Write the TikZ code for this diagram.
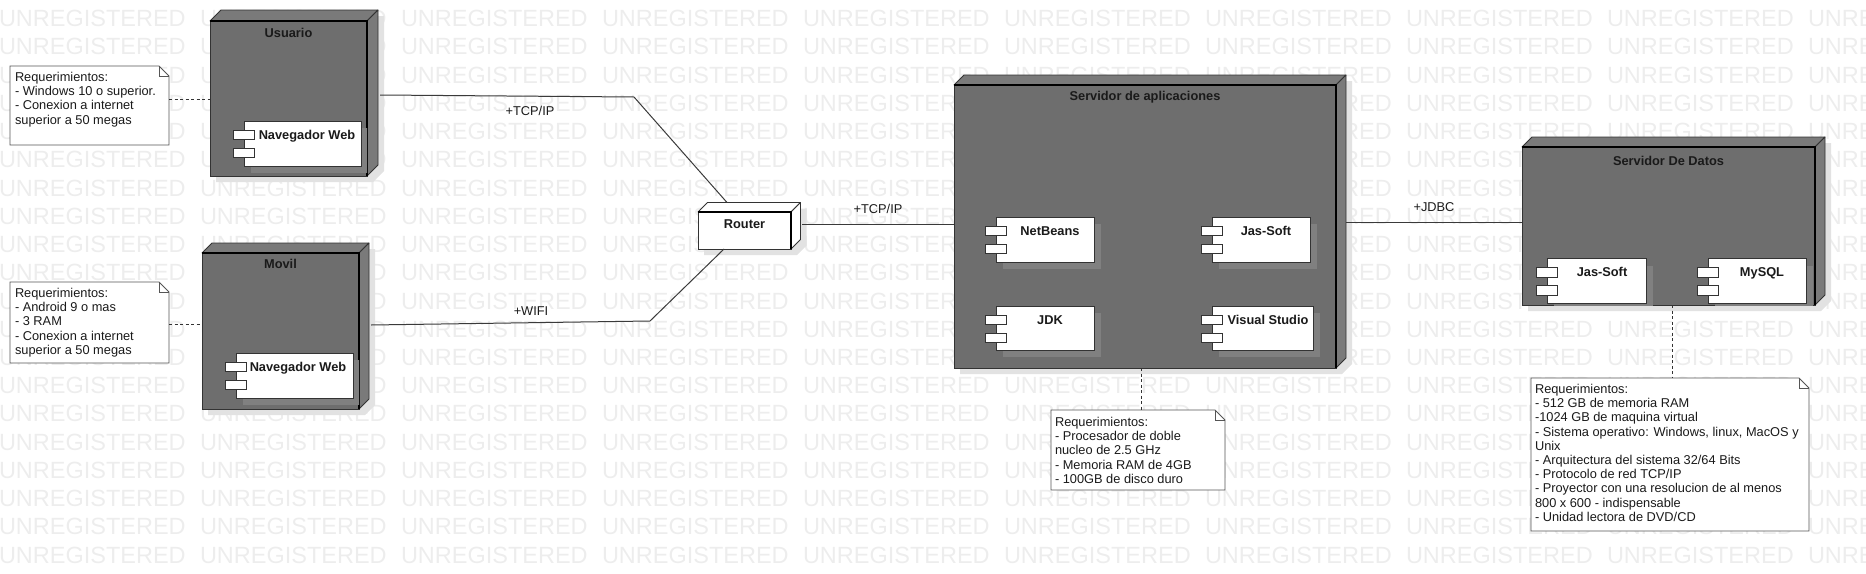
\documentclass[tikz,border=0pt]{standalone}
\usepackage{fontspec}
\setmainfont{Liberation Sans}
\usetikzlibrary{calc}
\definecolor{wm}{HTML}{EDEDED}
\definecolor{frontc}{HTML}{6E6E6E}
\definecolor{sidec}{HTML}{7A7A7A}
\definecolor{edgec}{HTML}{333333}
\definecolor{shadowc}{HTML}{E2E2E2}
\definecolor{cshadowc}{HTML}{808080}
\definecolor{notec}{HTML}{555555}
\definecolor{linec}{HTML}{3A3A3A}
\definecolor{textc}{HTML}{1A1A1A}

\tikzset{
  every node/.style={inner sep=0pt, outer sep=0pt},
  txt/.style={font=\fontsize{12.8}{14.2}\selectfont, text=textc},
  titletxt/.style={font=\fontsize{12.8}{14.2}\selectfont\bfseries, text=textc},
  wmtxt/.style={font=\fontsize{23.5}{28}\selectfont, text=wm, anchor=base west},
  frontface/.style={draw=edgec, line width=1pt, fill=frontc, anchor=north west},
  routerface/.style={draw=edgec, line width=1pt, fill=white, anchor=north west},
  compbody/.style={draw=edgec, line width=1pt, fill=white, anchor=north west},
  port/.style={draw=edgec, line width=0.9pt, fill=white, minimum width=21pt, minimum height=9.5pt},
  conn/.style={draw=linec, line width=1pt},
  dashline/.style={draw=black!80, line width=1pt, dash pattern=on 3pt off 2.5pt},
}

% #1 name, #2 l, #3 t, #4 w, #5 h, #6 depth, #7 front style, #8 side colour, #9 inner edge width
\newcommand\boxthreed[9]{%
  \fill[shadowc] ({#2+6},{#3+#5+6}) -- ({#2+6},{#3+6}) -- ({#2+#6+6},{#3-#6+6}) -- ({#2+#4+#6+6},{#3-#6+6}) -- ({#2+#4+#6+6},{#3+#5-#6+6}) -- ({#2+#4+6},{#3+#5+6}) -- cycle;
  \filldraw[fill=#8, draw=edgec, line width=0.8pt, line join=round] (#2,#3) -- ({#2+#6},{#3-#6}) -- ({#2+#4+#6},{#3-#6}) -- ({#2+#4},#3) -- cycle;
  \filldraw[fill=#8, draw=edgec, line width=0.8pt, line join=round] ({#2+#4},#3) -- ({#2+#4+#6},{#3-#6}) -- ({#2+#4+#6},{#3+#5-#6}) -- ({#2+#4},{#3+#5}) -- cycle;
  \node[#7, minimum width=#4pt, minimum height=#5pt] (#1) at (#2,#3) {};
  \draw[black, line width=#9pt] (#1.north west) -- (#1.north east) -- (#1.south east);
}

% #1 name, #2 parent, #3 l, #4 t, #5 w, #6 h, #7 label, #8 label dx
\newcommand\compbox[8]{%
  \begin{scope}
    \clip (#2.north west) rectangle (#2.south east);
    \fill[cshadowc] ({#3+7},{#4+7}) rectangle ({#3+#5+7},{#4+#6+7});
  \end{scope}
  \node[compbody, minimum width=#5pt, minimum height=#6pt] (#1) at (#3,#4) {};
  \node[port] (#1-p1) at ([yshift=-13.75pt]#1.north west) {};
  \node[port] (#1-p2) at ([yshift=-32pt]#1.north west) {};
  \node[titletxt, anchor=base] (#1-l) at ({#3+#5/2+#8},{#4+18}) {#7};
}

% #1 name, #2 l, #3 t, #4 w, #5 h
\newcommand\notebox[5]{%
  \node[minimum width=#4pt, minimum height=#5pt, anchor=north west] (#1) at (#2,#3) {};
  \filldraw[fill=white, draw=notec, line width=0.9pt] (#1.south west) -- (#1.north west) -- ([xshift=-10pt]#1.north east) -- ([yshift=-10pt]#1.north east) -- (#1.south east) -- cycle;
  \draw[notec, line width=0.9pt] ([xshift=-10pt]#1.north east) -- ([xshift=-10pt,yshift=-10pt]#1.north east) -- ([yshift=-10pt]#1.north east);
}

\begin{document}
\begin{tikzpicture}[x=1pt, y=-1pt]
\useasboundingbox (0,0) rectangle (1866,573);

% watermark
\begin{scope}
  \clip (0,0) rectangle (1866,573);
  \foreach \r in {0,...,19}{
    \foreach \c in {0,...,9}{
      \node[wmtxt] (wm-\r-\c) at ({-1+201*\c},{26.7+28.23*\r}) {UNREGISTERED};
    }
  }
\end{scope}

% 3D nodes
\boxthreed{usuario}{210}{21}{157}{155}{11}{frontface}{sidec}{1.8}
\node[titletxt, anchor=base] (usuario-t) at (288.5,37.6) {Usuario};
\compbox{unav}{usuario}{244}{121}{117}{45}{Navegador Web}{4.5}

\boxthreed{movil}{202}{253}{157}{156}{10}{frontface}{sidec}{1.8}
\node[titletxt, anchor=base] (movil-t) at (280.5,268.6) {Movil};
\compbox{mnav}{movil}{236}{353}{117}{45}{Navegador Web}{3.5}

\boxthreed{router}{698}{212}{93}{37}{9.5}{routerface}{white}{1.2}
\node[titletxt, anchor=base] (router-t) at (744.5,228.6) {Router};

\boxthreed{apps}{954}{85}{382}{283}{10}{frontface}{sidec}{1.8}
\node[titletxt, anchor=base] (apps-t) at (1145,100.6) {Servidor de aplicaciones};
\compbox{netbeans}{apps}{996}{217}{98}{45}{NetBeans}{5}
\compbox{jasa}{apps}{1212}{217}{98}{45}{Jas-Soft}{5}
\compbox{jdk}{apps}{996}{306}{98}{44}{JDK}{5}
\compbox{vstudio}{apps}{1212}{306}{101}{44}{Visual Studio}{5.5}

\boxthreed{datos}{1522}{147}{293}{158}{10}{frontface}{sidec}{1.8}
\node[titletxt, anchor=base] (datos-t) at (1668.5,165.6) {Servidor De Datos};
\compbox{jasb}{datos}{1547}{258.5}{99}{45}{Jas-Soft}{5.5}
\compbox{mysql}{datos}{1708}{258.5}{98}{45}{MySQL}{5}

% notes
\notebox{n1}{10}{66}{159}{79}
\node[txt, anchor=base west] (n1-t) at (15,81.5) {\vtop{\hbox{Requerimientos:}\hbox{- Windows 10 o superior.}\hbox{- Conexion a internet}\hbox{superior a 50 megas}}};

\notebox{n2}{10}{282}{159}{81}
\node[txt, anchor=base west] (n2-t) at (15,297.5) {\vtop{\hbox{Requerimientos:}\hbox{- Android 9 o mas}\hbox{- 3 RAM}\hbox{- Conexion a internet}\hbox{superior a 50 megas}}};

\notebox{n3}{1051}{410}{174}{80}
\node[txt, anchor=base west] (n3-t) at (1055,426.5) {\vtop{\hbox{Requerimientos:}\hbox{- Procesador de doble}\hbox{nucleo de 2.5 GHz}\hbox{- Memoria RAM de 4GB}\hbox{- 100GB de disco duro}}};

\notebox{n4}{1531}{378}{278}{153}
\node[txt, anchor=base west] (n4-t) at (1535,393.5) {\vtop{\hbox{Requerimientos:}\hbox{- 512 GB de memoria RAM}\hbox{-1024 GB de maquina virtual}\hbox{- Sistema operativo: Windows, linux, MacOS y}\hbox{Unix}\hbox{- Arquitectura del sistema 32/64 Bits}\hbox{- Protocolo de red TCP/IP}\hbox{- Proyector con una resolucion de al menos}\hbox{800 x 600 - indispensable}\hbox{- Unidad lectora de DVD/CD}}};

% connectors
\coordinate (b1) at (634,97);
\coordinate (b2) at (650,321);
\draw[conn] ([xshift=13pt,yshift=3.5pt]usuario.east) -- (b1) -- ([xshift=-17.5pt,yshift=9.5pt]router.north);
\draw[conn] ([xshift=12pt,yshift=6pt]movil.east) -- (b2) -- ([xshift=-20.5pt]router.south);
\draw[conn] ([xshift=11pt,yshift=6.5pt]router.east) -- ([yshift=2.5pt]apps.west);
\draw[conn] ([xshift=10pt,yshift=4.5pt]apps.east) -- ([yshift=4pt]datos.west);

\node[txt, anchor=base] (l-tcp1) at (530,115.5) {+TCP/IP};
\node[txt, anchor=base] (l-wifi) at (531,315.5) {+WIFI};
\node[txt, anchor=base] (l-tcp2) at (878,213.5) {+TCP/IP};
\node[txt, anchor=base] (l-jdbc) at (1434,211.5) {+JDBC};

% note links
\draw[dashline] ([yshift=6.5pt]n1.east) -- ([yshift=-0.5pt]usuario.west);
\draw[dashline] ([yshift=-1.5pt]n2.east) -- ([yshift=7pt]movil.west);
\draw[dashline] ([xshift=-4pt]apps.south) -- ([xshift=3pt]n3.north);
\draw[dashline] ([xshift=3.5pt]datos.south) -- ([xshift=2pt]n4.north);
\end{tikzpicture}
\end{document}
